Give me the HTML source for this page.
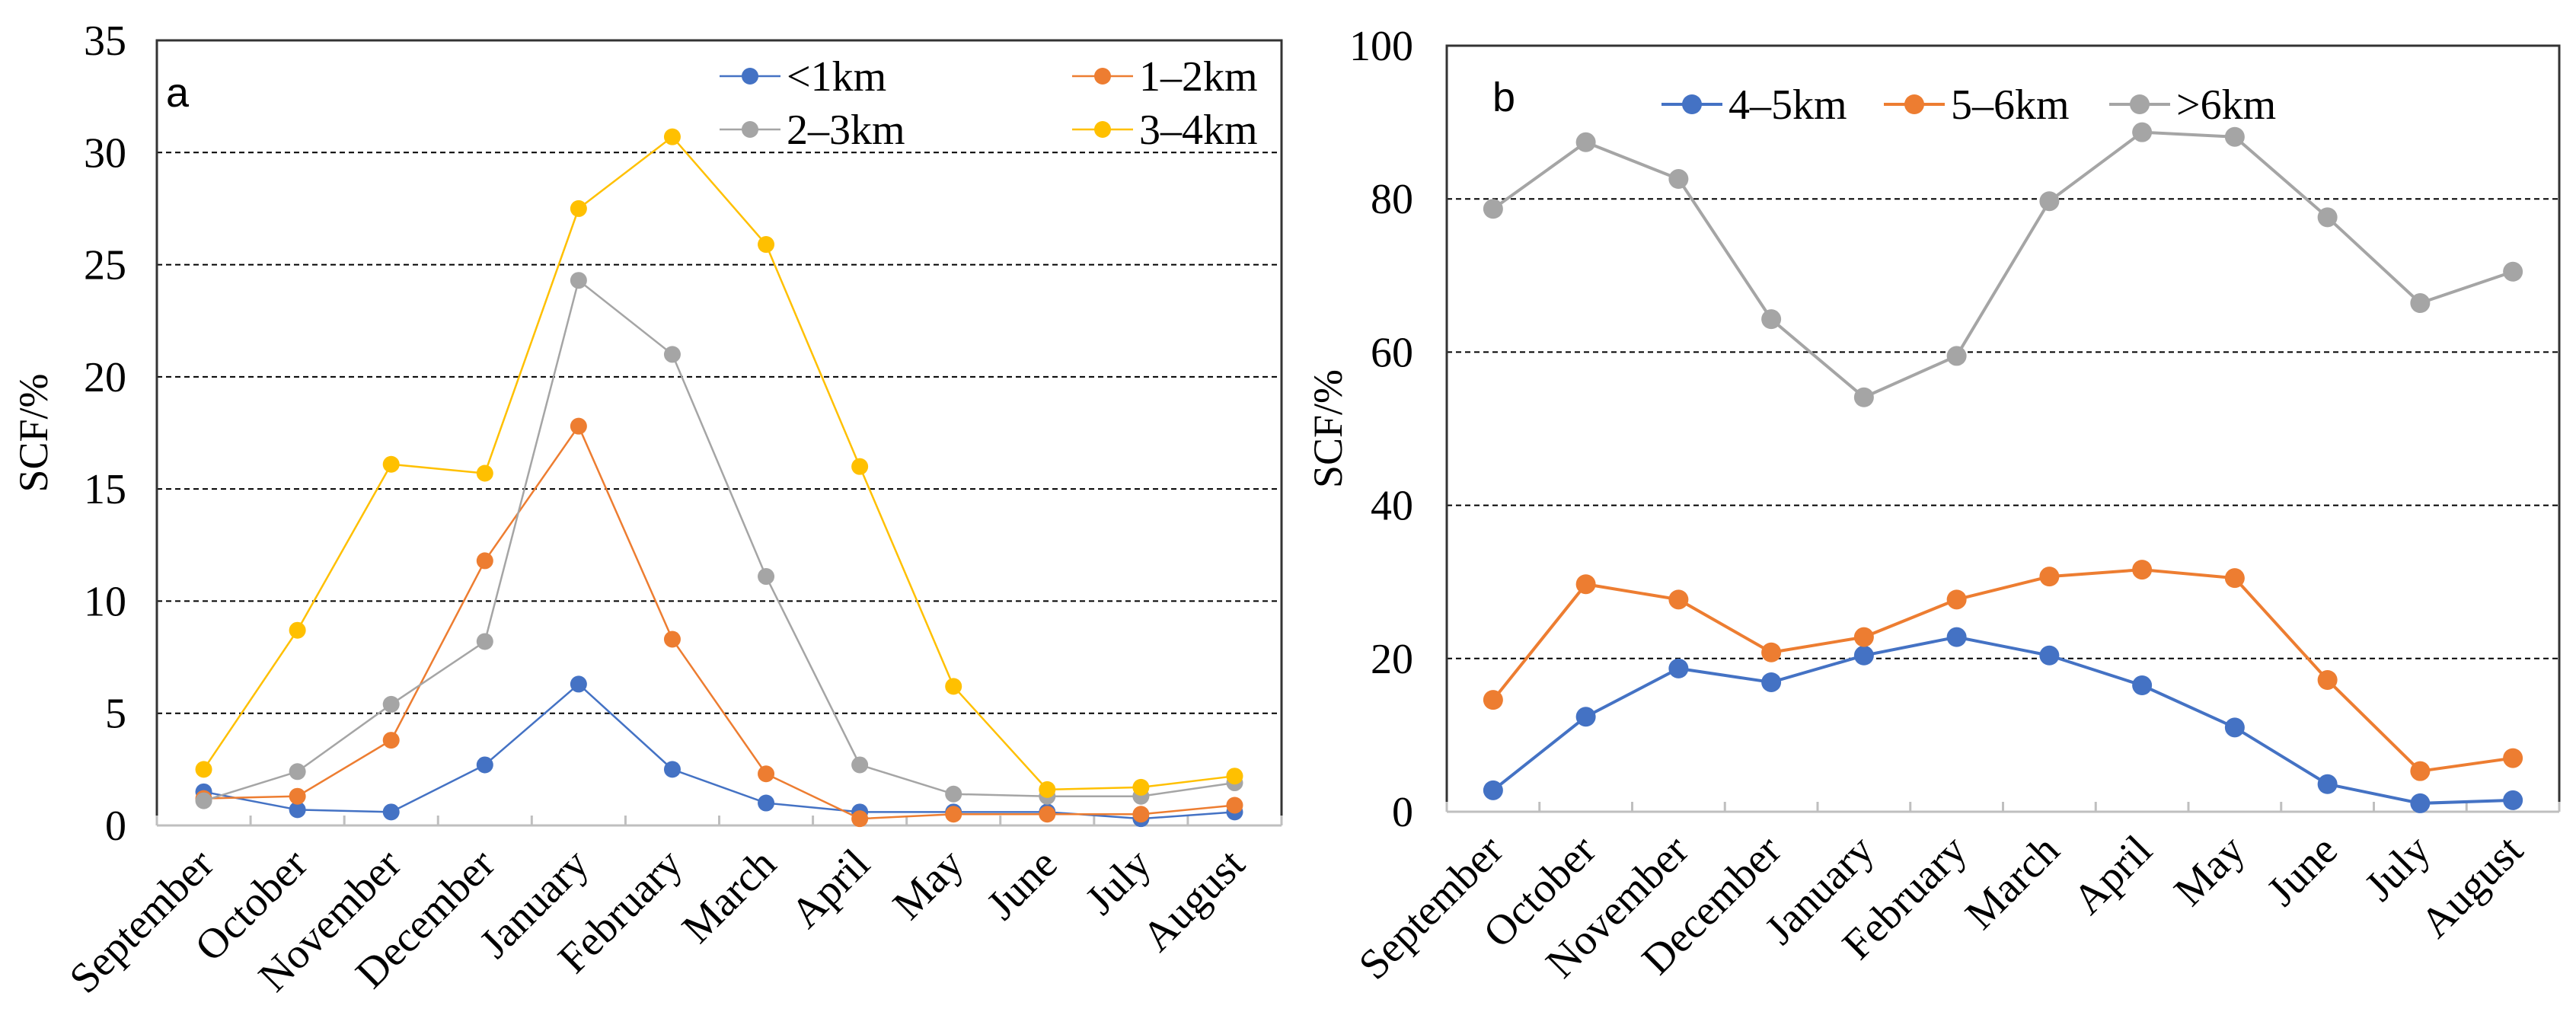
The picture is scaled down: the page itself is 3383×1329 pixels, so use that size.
<!DOCTYPE html>
<html><head><meta charset="utf-8"><style>
html,body{margin:0;padding:0;background:#fff;}
svg{display:block;font-family:"Liberation Serif",serif;}
</style></head><body>
<svg id="chart" width="3383" height="1329" viewBox="0 0 3383 1329"></svg>
<script>
const months = ["September","October","November","December","January","February","March","April","May","June","July","August"];
const aNames = ["<1km","1\u20132km","2\u20133km","3\u20134km"];
const aLt1 = [1.5,0.7,0.6,2.7,6.3,2.5,1.0,0.6,0.6,0.6,0.3,0.6];
const a1to2 = [1.2,1.3,3.8,11.8,17.8,8.3,2.3,0.3,0.5,0.5,0.5,0.9];
const a2to3 = [1.1,2.4,5.4,8.2,24.3,21.0,11.1,2.7,1.4,1.3,1.3,1.9];
const a3to4 = [2.5,8.7,16.1,15.7,27.5,30.7,25.9,16.0,6.2,1.6,1.7,2.2];
const aTicks = [0,5,10,15,20,25,30,35];
const bNames = ["4\u20135km","5\u20136km",">6km"];
const b4to5 = [2.8,12.4,18.7,16.9,20.4,22.8,20.4,16.5,11.0,3.6,1.1,1.5];
const b5to6 = [14.6,29.7,27.7,20.8,22.8,27.7,30.7,31.6,30.5,17.2,5.3,7.0];
const bGt6 = [78.7,87.4,82.6,64.3,54.1,59.5,79.7,88.7,88.1,77.6,66.4,70.5];
const bTicks = [0,20,40,60,80,100];

const NS="http://www.w3.org/2000/svg";
const svg=document.getElementById('chart');
function mk(tag,attrs,parent){const e=document.createElementNS(NS,tag);for(const k in attrs)e.setAttribute(k,attrs[k]);(parent||svg).appendChild(e);return e;}
const colors=["#4472C4","#ED7D31","#A5A5A5","#FFC000"];

function panel(cfg){
  const g=mk('g',{});
  
  
  const {L,R,T,B,max}=cfg;
  const step=(R-L)/months.length;
  const x=i=>L+step*(i+0.5);
  const y=v=>B-(v/max)*(B-T);
  cfg.ticks.forEach(t=>{
    if(t>0&&t<max){
      const gl=mk('line',{x1:L,x2:R,y1:y(t),y2:y(t),stroke:'#000','stroke-width':2,'stroke-dasharray':'7,5'},g);
      
      
    }
    const tl=mk('text',{x:cfg.tickX,y:y(t)+19,'text-anchor':'end','font-size':56,fill:'#000'},g);
    tl.textContent=t;
    
    
  });
  const fr=mk('path',{d:`M${L},${B} L${L},${T} L${R},${T} L${R},${B}`,fill:'none',stroke:'#333','stroke-width':3},g);
  
  
  const ax=mk('line',{x1:L,x2:R,y1:B,y2:B,stroke:'#bfbfbf','stroke-width':3},g);
  
  
  for(let i=0;i<=months.length;i++){
    const tk=mk('line',{x1:L+step*i,x2:L+step*i,y1:B,y2:B-13,stroke:'#bfbfbf','stroke-width':3},g);
    
    
  }
  months.forEach((m,i)=>{
    const t=mk('text',{x:0,y:0,'text-anchor':'end','font-size':56,fill:'#000',transform:`translate(${x(i)+16},${B+54}) rotate(-45)`},g);
    t.textContent=m;
    
    
  });
  const yt=mk('text',{x:0,y:0,'text-anchor':'middle','font-size':54,fill:'#000',transform:`translate(${cfg.titleX},${(T+B)/2}) rotate(-90)`},g);
  yt.textContent='SCF/%';
  
  
  const pl=mk('text',{x:cfg.labelX,y:cfg.labelY,'font-size':54,fill:'#000','font-family':'Liberation Sans, sans-serif'},g);
  pl.textContent=cfg.letter;
  
  
  cfg.series.forEach((s,si)=>{
    const col=cfg.cols[si];
    const sg=mk('g',{},g);
    
    
    const pts=s.map((v,i)=>x(i)+','+y(v)).join(' ');
    const ln=mk('polyline',{points:pts,fill:'none',stroke:col,'stroke-width':cfg.lw},sg);
    
    
    s.forEach((v,i)=>{
      const c=mk('circle',{cx:x(i),cy:y(v),r:cfg.r,fill:col},sg);
      
      
    });
  });
  cfg.legend.forEach((p,si)=>{
    const lg=mk('g',{},g);
    
    
    const col=cfg.cols[si];
    mk('line',{x1:p[0],x2:p[0]+80,y1:p[1],y2:p[1],stroke:col,'stroke-width':cfg.lw},lg);
    mk('circle',{cx:p[0]+40,cy:p[1],r:cfg.r,fill:col},lg);
    const t=mk('text',{x:p[0]+88,y:p[1]+19,'font-size':56,fill:'#000'},lg);
    t.textContent=cfg.names[si];
  });
}
panel({name:'panel-a',letter:'a',L:206,R:1683,T:53,B:1084,max:35,ticks:aTicks,tickX:166,titleX:62,labelX:218,labelY:140,
  series:[aLt1,a1to2,a2to3,a3to4],names:aNames,cols:colors,lw:2.5,r:11,
  legend:[[945,100],[1408,100],[945,170],[1408,170]]});
panel({name:'panel-b',letter:'b',L:1900,R:3361,T:60,B:1066,max:100,ticks:bTicks,tickX:1856,titleX:1762,labelX:1960,labelY:146,
  series:[b4to5,b5to6,bGt6],names:bNames,cols:[colors[0],colors[1],colors[2]],lw:4,r:13,
  legend:[[2182,137],[2474,137],[2770,137]]});
</script>
</body></html>
